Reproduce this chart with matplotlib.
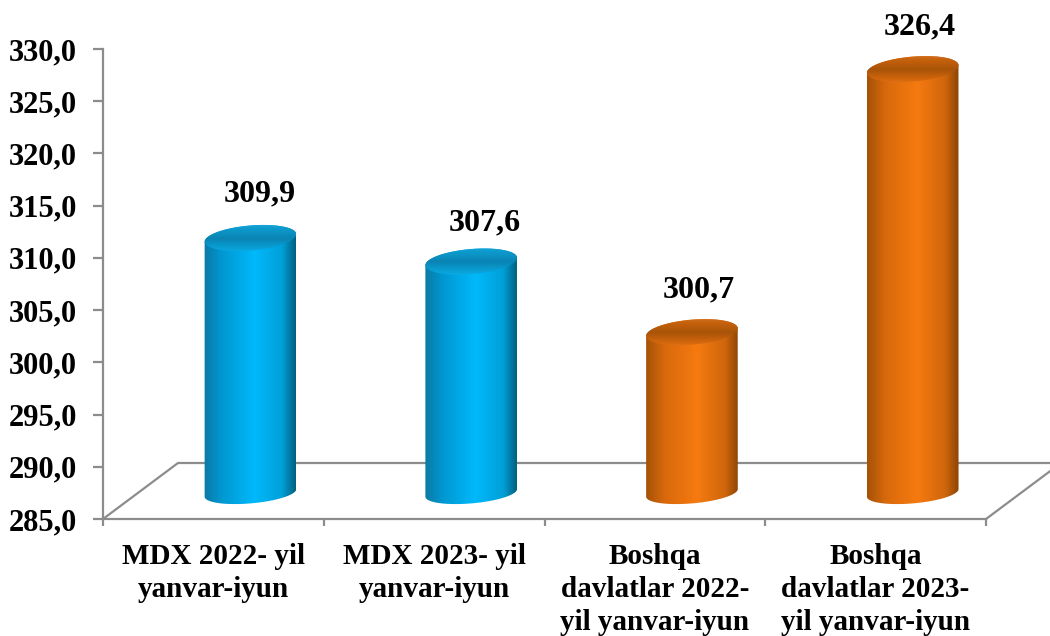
import matplotlib
matplotlib.use("Agg")
import matplotlib.pyplot as plt
import numpy as np
from matplotlib.colors import LinearSegmentedColormap
from matplotlib.patches import PathPatch
from matplotlib.path import Path

categories = [
    "MDX 2022- yil\nyanvar-iyun",
    "MDX 2023- yil\nyanvar-iyun",
    "Boshqa\ndavlatlar 2022-\nyil yanvar-iyun",
    "Boshqa\ndavlatlar 2023-\nyil yanvar-iyun",
]
values = [309.9, 307.6, 300.7, 326.4]
value_labels = ["309,9", "307,6", "300,7", "326,4"]
y_ticks = [285, 290, 295, 300, 305, 310, 315, 320, 325, 330]

W, H = 1050, 636
LEFT, RIGHT, TOP, BOTTOM = 103, 986, 49, 519
PX_X = (RIGHT - LEFT) / 4
PX_Y = (BOTTOM - TOP) / 45
GREY = "#8c8c8c"

# fake 3D projection of the plot
BAR_CENTER = 0.668
BAR_HALF = 46 / PX_X
BASE_OFFSET = 2.5
DEPTH_SCALE = 0.98
TOP_RY = 12.5
BOTTOM_RY = 10.5
TILT = np.deg2rad(5)

# label nudges in pixels, the original placed these by hand
LABEL_NUDGE = [(9, 44), (14, 39), (7, 42), (7, 42)]

CYAN = LinearSegmentedColormap.from_list(
    "cyan", [(0, "#0a7aa5"), (0.2, "#0098d2"), (0.55, "#00b9fb"), (0.85, "#00a0d8"), (1, "#00607f")])
ORANGE = LinearSegmentedColormap.from_list(
    "orange", [(0, "#a45208"), (0.2, "#d8690c"), (0.55, "#f67a10"), (0.85, "#d0660c"), (1, "#8a4504")])
# top face runs front to back: light lip, dished dark centre, lighter far edge
CYAN_TOP = LinearSegmentedColormap.from_list(
    "cyan_top", [(0, "#18c0f4"), (0.18, "#08a4dc"), (0.5, "#0a84b2"), (0.8, "#0d9ccf"), (1, "#2ab0dc")])
ORANGE_TOP = LinearSegmentedColormap.from_list(
    "orange_top", [(0, "#f48a2c"), (0.18, "#d8690e"), (0.5, "#a85408"), (0.8, "#c8620c"), (1, "#d88a4c")])
bar_maps = [(CYAN, CYAN_TOP), (CYAN, CYAN_TOP), (ORANGE, ORANGE_TOP), (ORANGE, ORANGE_TOP)]


def ellipse(cx, cy, rx_px, ry_px, start=0.0, stop=2 * np.pi, n=80):
    t = np.linspace(start, stop, n)
    ex = rx_px * np.cos(t)
    ey = ry_px * np.sin(t)
    px = ex * np.cos(TILT) - ey * np.sin(TILT)
    py = ex * np.sin(TILT) + ey * np.cos(TILT)
    return np.column_stack([cx + px / PX_X, cy + py / PX_Y])


def clipped_gradient(ax, verts, cmap, extent, zorder, vertical=False):
    grad = np.linspace(0, 1, 256)
    grad = grad.reshape(-1, 1) if vertical else grad.reshape(1, -1)
    im = ax.imshow(grad, cmap=cmap, extent=extent, aspect="auto", origin="lower",
                   interpolation="bilinear", zorder=zorder)
    patch = PathPatch(Path(verts), transform=ax.transData, fc="none", ec="none")
    ax.add_patch(patch)
    im.set_clip_path(patch)


def cylinder(ax, xc, value, side_cmap, top_cmap):
    y_base = 285 + BASE_OFFSET
    y_top = y_base + (value - 285) * DEPTH_SCALE
    bottom_arc = ellipse(xc, y_base, 46, BOTTOM_RY, np.pi, 2 * np.pi)
    top_arc = ellipse(xc, y_top, 46, TOP_RY, 0, np.pi)
    body = np.vstack([bottom_arc, top_arc, bottom_arc[:1]])
    extent = [xc - BAR_HALF, xc + BAR_HALF, 280, 332]
    clipped_gradient(ax, body, side_cmap, extent, 3)

    face = ellipse(xc, y_top, 46, TOP_RY)
    span = (TOP_RY + 5) / PX_Y
    clipped_gradient(ax, face, top_cmap, [xc - BAR_HALF, xc + BAR_HALF, y_top - span, y_top + span],
                     4, vertical=True)
    return y_top


plt.rcParams["font.family"] = ["Liberation Serif", "DejaVu Serif"]
plt.rcParams["font.weight"] = "bold"

fig = plt.figure(figsize=(W / 100, H / 100), dpi=100)
ax = fig.add_axes([LEFT / W, 1 - BOTTOM / H, (RIGHT - LEFT) / W, (BOTTOM - TOP) / H])

for s in ("top", "right"):
    ax.spines[s].set_visible(False)
for s in ("left", "bottom"):
    ax.spines[s].set_color(GREY)
    ax.spines[s].set_linewidth(1.6)

# floor of the 3D box
back_x = 75 / PX_X
back_y = 285 + 56 / PX_Y
ax.plot([0, back_x, 4 + 75 / PX_X], [285, back_y, back_y], color=GREY, lw=1.6,
        clip_on=False, zorder=1)
ax.plot([4, 4 + 75 / PX_X], [285, back_y], color=GREY, lw=1.6, clip_on=False, zorder=1)

for i, v in enumerate(values):
    side, top = bar_maps[i]
    xc = i + BAR_CENTER
    y_top = cylinder(ax, xc, v, side, top)
    dx, dy = LABEL_NUDGE[i]
    ax.annotate(value_labels[i], (xc, y_top), xytext=(dx * 0.72, dy * 0.72), textcoords="offset points",
                ha="center", va="center", fontsize=23, fontweight="bold", annotation_clip=False,
                zorder=6)

ax.set_xlim(0, 4)
ax.set_ylim(285, 330)
ax.set_yticks(y_ticks)
ax.set_yticklabels([f"{t:.1f}".replace(".", ",") for t in y_ticks], fontsize=22, fontweight="bold")
ax.set_xticks(range(5))
ax.set_xticklabels([])
ax.tick_params(axis="y", color=GREY, width=1.6, length=7.2, pad=11.5)
ax.tick_params(axis="x", color=GREY, width=1.6, length=5)

for i, name in enumerate(categories):
    ax.annotate(name, (i + 0.5, 285), xytext=(0, -17), textcoords="offset points", ha="center",
                va="top", fontsize=21, fontweight="bold", linespacing=1.3,
                annotation_clip=False)

fig.savefig("out.png", dpi=100)
